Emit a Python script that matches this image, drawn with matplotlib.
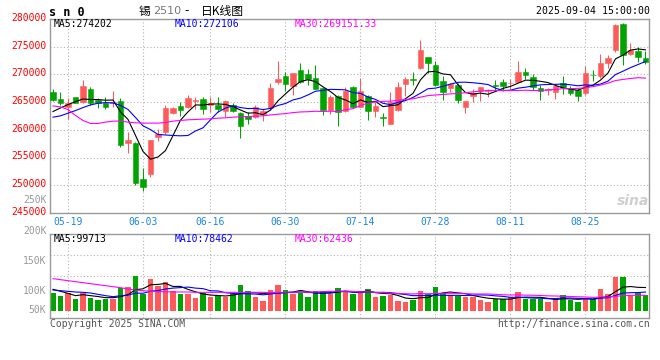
import numpy as np
import pandas as pd
import matplotlib
matplotlib.use("Agg")
import matplotlib.pyplot as plt
from matplotlib import transforms

# daily bars of 锡2510 (80 trading days)
opens = [266770, 265510, 264200, 265870, 264980, 267360, 265390, 264920, 264800, 265270,
         257640, 257640, 251130, 251970, 258710, 259550, 263000, 264260, 264200, 265270,
         265510, 264560, 264560, 263430, 264560, 263010, 262410, 262290, 262890, 263960,
         268670, 269750, 267960, 270880, 270050, 269270, 267480, 263600, 266050, 263360,
         267660, 264200, 266050, 263420, 262290, 261100, 263600, 268260, 269090, 271240,
         273210, 271660, 268740, 267540, 268140, 264080, 266170, 266940, 266940, 268080,
         268670, 268380, 268670, 270520, 269450, 267540, 267180, 266770, 268440, 267540,
         267180, 266590, 269930, 269630, 272020, 274340, 279120, 273630, 274220, 273030]
highs = [267360, 266770, 265690, 265900, 268970, 267780, 265750, 265990, 266940, 265750,
         259600, 257820, 253040, 258230, 260080, 264500, 264200, 264980, 266290, 265870,
         265870, 265870, 265870, 265300, 264800, 263180, 263180, 264500, 263780, 268440,
         272370, 270520, 270170, 272020, 270940, 271660, 267660, 266350, 266350, 267660,
         267840, 269270, 266350, 264980, 263070, 266770, 268550, 269450, 270520, 276250,
         273210, 272370, 269750, 268500, 268500, 265270, 267360, 267660, 267360, 268970,
         269150, 269150, 272430, 271240, 270050, 268080, 267480, 268260, 269750, 267960,
         267480, 271540, 270820, 273750, 273450, 279120, 279300, 275720, 274940, 274220]
lows = [265150, 264560, 261990, 264800, 264800, 264560, 263960, 263780, 264200, 256920,
        255900, 250060, 248980, 251430, 257930, 259310, 262890, 262470, 263960, 263780,
        262890, 263300, 263300, 262290, 263180, 258590, 261100, 262050, 261510, 263780,
        268260, 266940, 266350, 268440, 268080, 267360, 262710, 262890, 260620, 263180,
        263960, 264080, 261690, 262290, 260740, 260980, 263480, 266050, 268080, 270940,
        270170, 267960, 265390, 266770, 264800, 263010, 264980, 265150, 265870, 267180,
        267060, 267360, 268550, 269150, 267180, 265390, 266350, 265570, 266470, 266350,
        265150, 266350, 268850, 269330, 271240, 274040, 271660, 273510, 272250, 271840]
closes = [265390, 264800, 264800, 264920, 267960, 264860, 264800, 264200, 265100, 257220,
          258110, 250360, 249760, 258110, 259190, 263900, 263900, 263600, 265690, 265390,
          263780, 264800, 263720, 265270, 263360, 260740, 261990, 264080, 263480, 267540,
          269090, 268260, 270170, 268550, 269150, 267360, 263600, 265870, 263180, 266940,
          264080, 266940, 263480, 264260, 262170, 264980, 267660, 269090, 268970, 274460,
          272140, 268080, 266770, 268260, 265390, 265150, 266710, 267660, 267180, 267900,
          267960, 268500, 270520, 269930, 267780, 267060, 267360, 267960, 267660, 266590,
          266110, 270170, 269810, 272140, 273030, 278880, 273510, 274340, 273210, 272250]
volumes = [78100, 65320, 75260, 51120, 78100, 56800, 46860, 51120, 51120, 97980,
           102240, 150520, 71000, 136320, 106500, 123540, 85200, 72420, 72420, 55380,
           78100, 61060, 63900, 61060, 72420, 110760, 85200, 59640, 42600, 89460,
           110760, 89460, 71000, 78100, 59640, 85200, 85200, 72420, 97980, 82360,
           73840, 79520, 93720, 61060, 65320, 68160, 42600, 38340, 48280, 85200,
           72420, 102240, 78100, 66740, 65320, 58220, 61060, 48280, 39760, 52540,
           51120, 61060, 80940, 49700, 49700, 49700, 39760, 53960, 68160, 46860,
           39760, 51120, 51120, 93720, 72420, 144840, 144840, 65320, 76680, 68160]

# moving-average values before enough bars are on screen
ma5_lead = [263305, 263961, 264558, 265094]
ma10_lead = [262290, 262529, 263006, 263484, 264021, 264498, 264797, 264916, 264856]
ma30_lead = [264319, 264140, 263662, 262588, 261693, 261156, 261156, 261395, 261574, 261574,
             261395, 261275, 261216, 261216, 261216, 261335, 261574, 261693, 261812, 261872,
             261932, 261992, 262111, 262171, 262290, 262350, 262409, 262469, 262529]
vma5_lead = [92300, 83780, 75260, 65320]
vma10_lead = [89460, 86620, 83780, 80940, 79520, 76680, 71000, 65320, 61060]
vma30_lead = [137740, 133480, 129220, 124960, 120700, 116440, 112180, 107920, 103660, 99400,
              93720, 89460, 86620, 83780, 82360, 82360, 80940, 80940, 80940, 79520,
              79520, 79520, 79520, 79520, 79520, 79520, 79520, 79520, 79520]

tick_idx = [2, 12, 21, 31, 41, 51, 61, 71]
tick_lbl = ["05-19", "06-03", "06-16", "06-30", "07-14", "07-28", "08-11", "08-25"]
price_ticks = [245000, 250000, 255000, 260000, 265000, 270000, 275000, 280000]
vol_lbl = ["200K", "150K", "100K", "50K"]

RED = "#ff5a5a"
GREEN = "#00a400"
BLUE_TXT = "#1a86e6"
GRID = "#b4b4b4"
EDGE = "#9a9a9a"

plt.rcParams["font.family"] = ["DejaVu Sans Mono"]
CJK = ["Noto Sans CJK SC", "DejaVu Sans"]


def with_lead(values, n, lead):
    s = pd.Series(values, dtype=float).rolling(n).mean()
    s.iloc[:len(lead)] = lead
    return s.values


ma5 = with_lead(closes, 5, ma5_lead)
ma10 = with_lead(closes, 10, ma10_lead)
ma30 = with_lead(closes, 30, ma30_lead)
vma5 = with_lead(volumes, 5, vma5_lead)
vma10 = with_lead(volumes, 10, vma10_lead)
vma30 = with_lead(volumes, 30, vma30_lead)

W, H = 660, 360
fig = plt.figure(figsize=(W / 100, H / 100), dpi=100)


def box(l, t, r, b):
    return [l / W, 1 - b / H, (r - l) / W, (b - t) / H]


def px(x, y):
    return x / W, 1 - y / H


ax = fig.add_axes(box(50, 19, 649, 213))
axv = fig.add_axes(box(50, 234, 649, 318))

o = np.array(opens)
c = np.array(closes)
x = np.arange(len(c))
cols = np.where(c >= o, RED, GREEN)
dots = (0, (1, 2))

# --- price panel ---
for y in price_ticks[1:-1]:
    ax.axhline(y, color=GRID, lw=0.8, ls=dots, zorder=0)
for t in tick_idx:
    ax.axvline(t, color=GRID, lw=0.8, ls=dots, zorder=0)

ax.vlines(x, lows, highs, colors=cols, lw=0.75, zorder=2)
ax.bar(x, np.abs(c - o), bottom=np.minimum(o, c), width=0.72, color=cols,
       edgecolor=cols, linewidth=0.4, zorder=3)
ax.plot(x, ma5, color="black", lw=0.8, zorder=4)
ax.plot(x, ma10, color="#0000ff", lw=0.8, zorder=4)
ax.plot(x, ma30, color="#ff00ff", lw=0.8, zorder=4)

ax.set_xlim(-0.4, 79.47)
ax.set_ylim(245000, 280000)
ax.set_yticks(price_ticks)
ax.set_yticklabels([str(v) for v in price_ticks], color="#ff0000", fontsize=7)
ax.set_xticks(tick_idx)
ax.set_xticklabels(tick_lbl, color=BLUE_TXT, fontsize=7)
ax.tick_params(length=0, pad=2.2)
ax.tick_params(axis="x", pad=2.6)
shift = transforms.ScaledTranslation(0, 0.022, fig.dpi_scale_trans)
for lb in ax.get_yticklabels():
    lb.set_transform(lb.get_transform() + shift)
for sp in ax.spines.values():
    sp.set_color(EDGE)
    sp.set_linewidth(1.0)

# --- volume panel ---
vlo, vhi = -29820, 328020
for f in (0.5, 0.75):
    axv.axhline(vlo + f * (vhi - vlo), color=GRID, lw=0.8, ls=dots, zorder=0)
for t in tick_idx:
    axv.axvline(t, color=GRID, lw=0.8, ls=dots, zorder=0)
axv.bar(x, volumes, width=0.72, color=cols, zorder=2)
axv.plot(x, vma5, color="black", lw=0.8, zorder=3)
axv.plot(x, vma10, color="#0000ff", lw=0.8, zorder=3)
axv.plot(x, vma30, color="#ff00ff", lw=0.8, zorder=3)
axv.set_xlim(-0.4, 79.47)
axv.set_ylim(vlo, vhi)
axv.set_xticks([])
axv.set_yticks([])
for sp in axv.spines.values():
    sp.set_color(EDGE)
    sp.set_linewidth(1.0)
for lbl, fy in zip(vol_lbl, [1.036, 0.679, 0.321, 0.095]):
    axv.text(-0.006, fy, lbl, transform=axv.transAxes, ha="right", va="center",
             color="#999999", fontsize=7)

# --- texts ---
fig.text(*px(49, 12), "s n 0", fontsize=8.5, fontweight="bold", va="center")
fig.text(*px(139, 11), "锡", family=CJK, fontsize=8.5, va="center")
fig.text(*px(153, 11), "2510", family=["DejaVu Sans"], color="#777777", fontsize=8, va="center")
fig.text(*px(184, 11), "-", family=["DejaVu Sans"], fontsize=8.5, va="center")
fig.text(*px(201, 11), "日K线图", family=CJK, fontsize=8.5, va="center")
fig.text(*px(650, 11.5), "2025-09-04 15:00:00", fontsize=7.1, ha="right", va="center")

fig.text(*px(54, 24), "MA5:274202", fontsize=7, va="center", color="black")
fig.text(*px(175, 24), "MA10:272106", fontsize=7, va="center", color="#0000ff")
fig.text(*px(295, 24), "MA30:269151.33", fontsize=7, va="center", color="#ff00ff")
fig.text(*px(54, 238.5), "MA5:99713", fontsize=7, va="center", color="black")
fig.text(*px(175, 238.5), "MA10:78462", fontsize=7, va="center", color="#0000ff")
fig.text(*px(295, 238.5), "MA30:62436", fontsize=7, va="center", color="#ff00ff")

fig.text(*px(47, 200), "250K", fontsize=7, ha="right", va="center", color="#999999")
fig.text(*px(50, 324), "Copyright 2025 SINA.COM", fontsize=7, va="center", color="#555555")
fig.text(*px(650, 324), "http://finance.sina.com.cn", fontsize=7, ha="right",
         va="center", color="#555555")
fig.text(*px(633, 201), "sina", family=["DejaVu Sans"], fontsize=10, fontstyle="italic",
         fontweight="bold", color="#cfcfcf", ha="center", va="center")

fig.savefig("out.png", dpi=100)
